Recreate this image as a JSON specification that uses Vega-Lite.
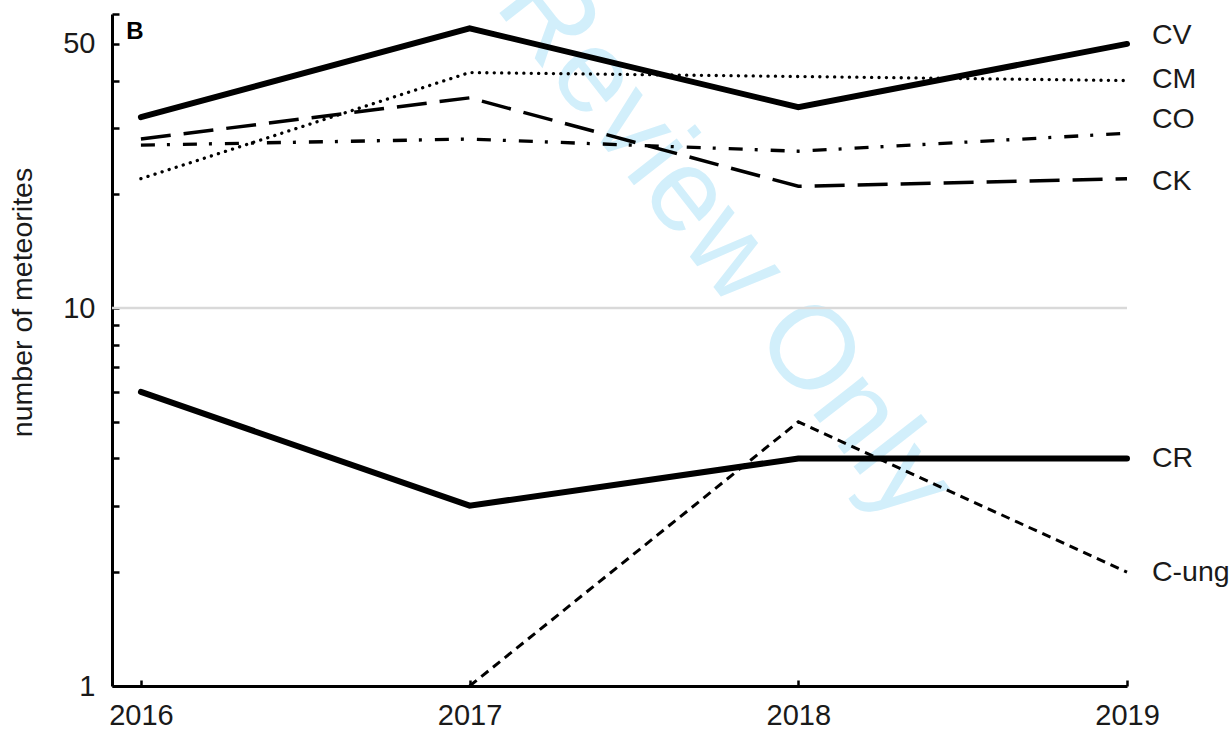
{
  "$schema": "https://vega.github.io/schema/vega-lite/v6.json",
  "width": 1015,
  "height": 672,
  "autosize": {"type": "none"},
  "padding": {"left": 112, "top": 14, "right": 105, "bottom": 45},
  "background": "white",
  "config": {"view": {"stroke": null}, "font": "Liberation Sans"},
  "datasets": {
    "counts": [
      {"year": 2016, "type": "CV", "count": 32},
      {"year": 2017, "type": "CV", "count": 55},
      {"year": 2018, "type": "CV", "count": 34},
      {"year": 2019, "type": "CV", "count": 50},
      {"year": 2016, "type": "CM", "count": 22},
      {"year": 2017, "type": "CM", "count": 42},
      {"year": 2018, "type": "CM", "count": 41},
      {"year": 2019, "type": "CM", "count": 40},
      {"year": 2016, "type": "CO", "count": 27},
      {"year": 2017, "type": "CO", "count": 28},
      {"year": 2018, "type": "CO", "count": 26},
      {"year": 2019, "type": "CO", "count": 29},
      {"year": 2016, "type": "CK", "count": 28},
      {"year": 2017, "type": "CK", "count": 36},
      {"year": 2018, "type": "CK", "count": 21},
      {"year": 2019, "type": "CK", "count": 22},
      {"year": 2016, "type": "CR", "count": 6},
      {"year": 2017, "type": "CR", "count": 3},
      {"year": 2018, "type": "CR", "count": 4},
      {"year": 2019, "type": "CR", "count": 4},
      {"year": 2017, "type": "C-ung", "count": 1},
      {"year": 2018, "type": "C-ung", "count": 5},
      {"year": 2019, "type": "C-ung", "count": 2}
    ]
  },
  "layer": [
    {
      "data": {"values": [{"label": "Review Only"}]},
      "mark": {"type": "text", "angle": 52, "fontSize": 118, "color": "#d2effb", "align": "center", "baseline": "middle"},
      "encoding": {
        "x": {"datum": 2017.777, "type": "quantitative"},
        "y": {"datum": 14.7, "type": "quantitative"},
        "text": {"field": "label", "type": "nominal"}
      }
    },
    {
      "data": {"values": [{"ref": 10}]},
      "mark": {"type": "rule", "color": "#d9d9d9", "strokeWidth": 2.5},
      "encoding": {"y": {"field": "ref", "type": "quantitative"}}
    },
    {
      "data": {"name": "counts"},
      "encoding": {
        "x": {
          "field": "year",
          "type": "quantitative",
          "scale": {"domain": [2015.912, 2019], "nice": false, "zero": false},
          "axis": {
            "values": [2016, 2017, 2018, 2019],
            "format": "d",
            "title": null,
            "grid": false,
            "tickSize": -6,
            "tickWidth": 2.5,
            "tickColor": "black",
            "domainColor": "black",
            "domainWidth": 3,
            "labelFontSize": 29,
            "labelColor": "#1a1a1a",
            "labelPadding": 21,
            "labelFlush": false,
            "labelOverlap": false
          }
        },
        "y": {
          "field": "count",
          "type": "quantitative",
          "scale": {"type": "log", "domain": [1, 60], "nice": false},
          "axis": {
            "values": [1, 2, 3, 4, 5, 6, 7, 8, 9, 10, 20, 30, 40, 50, 60],
            "labelExpr": "datum.value == 1 || datum.value == 10 || datum.value == 50 ? datum.label : ''",
            "format": "d",
            "title": "number of meteorites",
            "titleFontSize": 28.5,
            "titleFontWeight": "normal",
            "titleColor": "#1a1a1a",
            "titlePadding": 25,
            "titleY": 288,
            "grid": false,
            "tickSize": -7,
            "tickWidth": 2.5,
            "tickColor": "black",
            "domainColor": "black",
            "domainWidth": 3,
            "labelFontSize": 29,
            "labelColor": "#1a1a1a",
            "labelPadding": 24,
            "labelFlush": false,
            "labelOverlap": false
          }
        }
      },
      "layer": [
        {
          "transform": [{"filter": "datum.type == 'CM'"}],
          "mark": {"type": "line", "color": "black", "strokeWidth": 3.3, "strokeDash": [0.1, 7.3], "strokeCap": "round"},
          "encoding": {"detail": {"field": "type"}}
        },
        {
          "transform": [{"filter": "datum.type == 'CO'"}],
          "mark": {"type": "line", "color": "black", "strokeWidth": 3.3, "strokeDash": [14, 12, 3, 13]},
          "encoding": {"detail": {"field": "type"}}
        },
        {
          "transform": [{"filter": "datum.type == 'CK'"}],
          "mark": {"type": "line", "color": "black", "strokeWidth": 3.5, "strokeDash": [30, 13]},
          "encoding": {"detail": {"field": "type"}}
        },
        {
          "transform": [{"filter": "datum.type == 'C-ung'"}],
          "mark": {"type": "line", "color": "black", "strokeWidth": 3, "strokeDash": [9, 6]},
          "encoding": {"detail": {"field": "type"}}
        },
        {
          "transform": [{"filter": "datum.type == 'CV' || datum.type == 'CR'"}],
          "mark": {"type": "line", "color": "black", "strokeWidth": 6, "strokeCap": "round", "strokeJoin": "miter"},
          "encoding": {"detail": {"field": "type"}}
        },
        {
          "transform": [{"filter": "datum.year == 2019 && datum.type == 'CV'"}],
          "mark": {"type": "text", "align": "left", "baseline": "middle", "dx": 25, "dy": -9, "fontSize": 28.5, "color": "#1a1a1a"},
          "encoding": {"text": {"field": "type"}}
        },
        {
          "transform": [{"filter": "datum.year == 2019 && datum.type == 'CM'"}],
          "mark": {"type": "text", "align": "left", "baseline": "middle", "dx": 25, "dy": -2, "fontSize": 28.5, "color": "#1a1a1a"},
          "encoding": {"text": {"field": "type"}}
        },
        {
          "transform": [{"filter": "datum.year == 2019 && datum.type == 'CO'"}],
          "mark": {"type": "text", "align": "left", "baseline": "middle", "dx": 25, "dy": -14, "fontSize": 28.5, "color": "#1a1a1a"},
          "encoding": {"text": {"field": "type"}}
        },
        {
          "transform": [{"filter": "datum.year == 2019 && datum.type == 'CK'"}],
          "mark": {"type": "text", "align": "left", "baseline": "middle", "dx": 25, "dy": 2, "fontSize": 28.5, "color": "#1a1a1a"},
          "encoding": {"text": {"field": "type"}}
        },
        {
          "transform": [{"filter": "datum.year == 2019 && (datum.type == 'CR' || datum.type == 'C-ung')"}],
          "mark": {"type": "text", "align": "left", "baseline": "middle", "dx": 25, "fontSize": 28.5, "color": "#1a1a1a"},
          "encoding": {"text": {"field": "type"}}
        }
      ]
    },
    {
      "data": {"values": [{"panel": "B"}]},
      "mark": {"type": "text", "align": "left", "baseline": "top", "dy": 6, "fontSize": 24, "fontWeight": "bold", "color": "black"},
      "encoding": {
        "x": {"datum": 2015.955, "type": "quantitative"},
        "y": {"datum": 60, "type": "quantitative"},
        "text": {"field": "panel", "type": "nominal"}
      }
    }
  ]
}
